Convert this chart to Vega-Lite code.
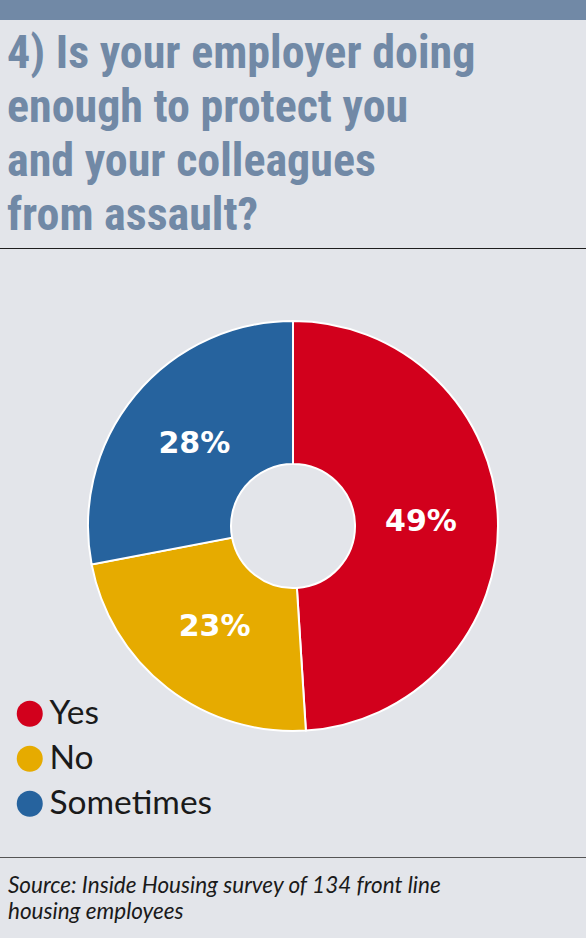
{
  "$schema": "https://vega.github.io/schema/vega-lite/v6.json",
  "background": "#e3e5ea",
  "padding": 0,
  "spacing": 0,
  "bounds": "flush",
  "config": {"view": {"stroke": null}},
  "resolve": {"scale": {"color": "independent"}, "legend": {"color": "independent"}},
  "vconcat": [
    {
      "width": 586, "height": 20,
      "view": {"fill": "#7189a6", "stroke": null},
      "data": {"values": [{}]},
      "mark": {"type": "text", "text": ""},
      "encoding": {}
    },
    {
      "width": 586, "height": 228,
      "data": {"values": [{}]},
      "mark": {"type": "text", "text": ""},
      "encoding": {}
    },
    {
      "width": 586, "height": 1,
      "view": {"fill": "#1e1e1e", "stroke": null},
      "title": {
        "text": ["4) Is your employer doing", "enough to protect you", "and your colleagues", "from assault?"],
        "orient": "top", "anchor": "start", "dx": 7, "offset": 3,
        "font": "Roboto Condensed, DejaVu Sans Condensed, Liberation Sans Narrow, sans-serif", "fontWeight": "bold", "fontSize": 46, "lineHeight": 54,
        "baseline": "top", "color": "#7189a6"
      },
      "data": {"values": [{}]},
      "mark": {"type": "text", "text": ""},
      "encoding": {}
    },
    {
      "width": 586, "height": 554,
      "data": {"values": [
        {"answer": "Yes", "pct": 49, "label": "49%", "rank": 1},
        {"answer": "No", "pct": 23, "label": "23%", "rank": 2},
        {"answer": "Sometimes", "pct": 28, "label": "28%", "rank": 3}
      ]},
      "encoding": {
        "theta": {"field": "pct", "type": "quantitative", "stack": true},
        "order": {"field": "rank", "type": "quantitative"}
      },
      "layer": [
        {
          "mark": {"type": "arc", "outerRadius": 205, "innerRadius": 62, "stroke": "#ffffff", "strokeWidth": 2},
          "encoding": {
            "color": {
              "field": "answer", "type": "nominal",
              "scale": {"domain": ["Yes", "No", "Sometimes"], "range": ["#d2001c", "#e6ab00", "#26639e"]},
              "legend": {
                "orient": "none", "legendX": 13, "legendY": 448, "title": null,
                "symbolType": "circle", "symbolSize": 676, "symbolStrokeWidth": 0, "symbolOpacity": 1,
                "labelFont": "Lato", "labelFontSize": 33.5, "labelColor": "#1a1a1a", "labelOffset": 3,
                "rowPadding": 10, "padding": 0, "labelLimit": 400
              }
            }
          }
        },
        {
          "mark": {"type": "text", "radius": 128, "font": "DejaVu Sans", "fontWeight": "bold", "fontSize": 30, "fill": "#ffffff", "baseline": "middle", "align": "center"},
          "encoding": {
            "text": {"field": "label", "type": "nominal"}
          }
        }
      ]
    },
    {
      "width": 586, "height": 53.5,
      "data": {"values": [{}]},
      "mark": {"type": "text", "text": ""},
      "encoding": {}
    },
    {
      "width": 586, "height": 1,
      "view": {"fill": "#555555", "stroke": null},
      "title": {
        "text": ["Source: Inside Housing survey of 134 front line", "housing employees"],
        "orient": "bottom", "anchor": "start", "dx": 8, "offset": 12,
        "font": "Lato", "fontStyle": "italic", "fontWeight": "normal", "fontSize": 22.5, "lineHeight": 26,
        "baseline": "top", "color": "#1a1a1a"
      },
      "data": {"values": [{}]},
      "mark": {"type": "text", "text": ""},
      "encoding": {}
    },
    {
      "width": 586, "height": 80.5,
      "data": {"values": [{}]},
      "mark": {"type": "text", "text": ""},
      "encoding": {}
    }
  ]
}
